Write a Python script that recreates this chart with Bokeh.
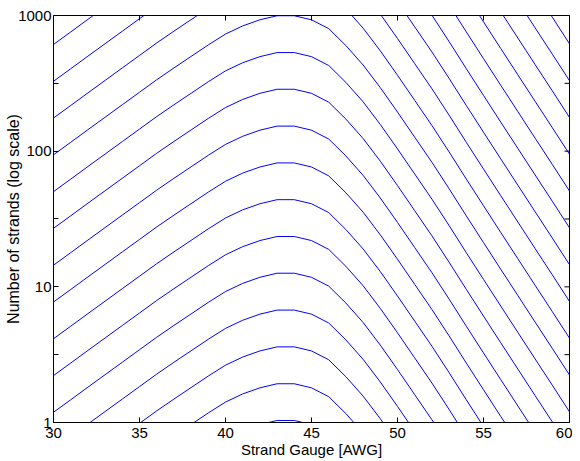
import numpy as np
from bokeh.plotting import figure
from bokeh.models import FixedTicker, BasicTickFormatter
from bokeh.embed import file_html
from bokeh.resources import INLINE

# Strand gauge grid [AWG]
gauge_awg = list(range(30, 61))
# Shape of every contour: log10(strands) relative to the contour's peak
profile_dlog = [-1.025, -0.933, -0.840, -0.748, -0.656, -0.564, -0.472, -0.385, -0.300, -0.215,
                -0.135, -0.075, -0.030, 0.000, 0.000, -0.030, -0.095, -0.220, -0.363, -0.530,
                -0.710, -0.895, -1.080, -1.275, -1.475, -1.672, -1.868, -2.063, -2.258, -2.452,
                -2.648]
# Peak number of strands of each contour line
contour_peaks = [1.035, 1.93, 3.61, 6.74, 12.6, 23.5, 43.9, 81.9, 153, 286, 533, 996,
                 1860, 3470, 6480, 12100, 22600, 42200, 78800, 147000, 275000]

x_ticks = [30, 35, 40, 45, 50, 55, 60]
y_ticks = [1, 10, 100, 1000]
y_minor_ticks = [3.1623, 31.623, 316.23]

FONT = "Liberation Sans"

p = figure(width=572, height=461, output_backend="svg", toolbar_location=None,
           x_range=(30, 60), y_range=(1, 1000), y_axis_type="log",
           min_border_left=53, min_border_right=3, min_border_top=15, min_border_bottom=39,
           background_fill_color="white", border_fill_color="white")

xs = [gauge_awg for _ in contour_peaks]
ys = [[pk * 10 ** d for d in profile_dlog] for pk in contour_peaks]
p.multi_line(xs, ys, line_color="#0000ff", line_width=1)

# inward ticks on the top and right edges of the box (clipped to the frame)
all_y_ticks = y_ticks + y_minor_ticks
p.scatter([x_ticks[-1]] * len(all_y_ticks), all_y_ticks, marker="dash", size=10,
          line_color="black", line_width=1)
p.scatter(x_ticks, [y_ticks[-1]] * len(x_ticks), marker="dash", angle=np.pi / 2, size=10,
          line_color="black", line_width=1)

p.grid.visible = False
p.outline_line_color = "black"
p.outline_line_width = 1


def style(ax, label_size):
    ax.axis_line_color = "black"
    ax.axis_line_width = 1
    ax.major_tick_in = 5
    ax.major_tick_out = 0
    ax.minor_tick_in = 5
    ax.minor_tick_out = 0
    ax.major_tick_line_color = "black"
    ax.minor_tick_line_color = "black"
    ax.major_label_text_font = FONT
    ax.major_label_text_font_size = "15px"
    ax.major_label_text_color = "black"
    ax.axis_label_text_font = FONT
    ax.axis_label_text_font_size = label_size
    ax.axis_label_text_font_style = "normal"
    ax.axis_label_text_color = "black"


xa = p.xaxis[0]
xa.ticker = FixedTicker(ticks=x_ticks, minor_ticks=[])
xa.axis_label = "Strand Gauge [AWG]"
style(xa, "15px")
xa.major_label_standoff = 5
xa.axis_label_standoff = 0

ya = p.yaxis[0]
ya.ticker = FixedTicker(ticks=y_ticks, minor_ticks=y_minor_ticks)
ya.formatter = BasicTickFormatter()
ya.axis_label = "Number of strands (log scale)"
style(ya, "16px")
ya.major_label_standoff = 2
ya.axis_label_standoff = -7

open("out.html", "w").write(file_html(p, INLINE))
